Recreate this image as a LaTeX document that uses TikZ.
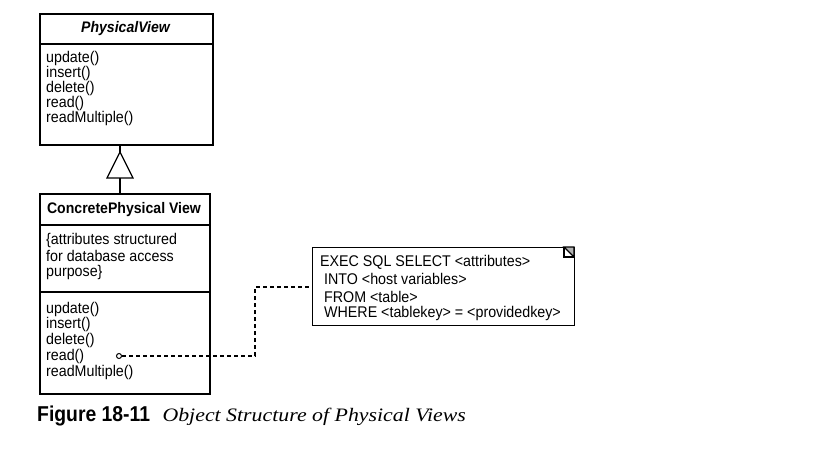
\documentclass[tikz,border=0pt]{standalone}
\usepackage{fontspec}
\setmainfont{Liberation Sans}
\newfontfamily\diag[FakeStretch=0.92]{Liberation Sans}
\newfontfamily\capsans[FakeStretch=0.9]{Liberation Sans}
\newfontfamily\capserif[FakeStretch=1.15]{Liberation Serif}
\usetikzlibrary{calc}

\begin{document}
\begin{tikzpicture}[x=1pt,y=-1pt,
  cls/.style={draw, line width=1.8pt, inner sep=0pt, anchor=north west},
  sepline/.style={line width=1.5pt},
  txt/.style={anchor=west, inner sep=0pt, font=\diag\fontsize{15.5}{15.5}\selectfont},
  ttl/.style={inner sep=0pt, font=\diag\fontsize{15.3}{15.3}\selectfont\bfseries},
  notebox/.style={draw, line width=1.4pt, inner sep=0pt, anchor=north west},
  dep/.style={line width=1.3pt, dash pattern=on 4pt off 3pt}
]
\fill[white] (0,0) rectangle (833,468);
\useasboundingbox (0,0) rectangle (833,468);

% PhysicalView class
\node[cls, minimum width=173pt, minimum height=131pt] (pv) at (39,13) {};
\draw[sepline] (39,44) -- (212,44);
\node[ttl, font=\diag\fontsize{15.3}{15.3}\selectfont\bfseries\itshape] (pvt) at (125.5,29) {PhysicalView};
\node[txt] (pv1) at (46,58) {update()};
\node[txt] (pv2) at (46,73) {insert()};
\node[txt] (pv3) at (46,88) {delete()};
\node[txt] (pv4) at (46,103) {read()};
\node[txt] (pv5) at (46,118) {readMultiple()};

% ConcretePhysical View class
\node[cls, minimum width=170pt, minimum height=200pt] (cp) at (39,193) {};
\draw[sepline] (39,225) -- (209,225);
\draw[sepline] (39,292) -- (209,292);
\node[ttl] (cpt) at (124,210) {ConcretePhysical View};
\node[txt] (ca1) at (46,240) {\{attributes structured};
\node[txt] (ca2) at (46,256) {for database access};
\node[txt] (ca3) at (46,272) {purpose\}};
\node[txt] (cm1) at (46,309) {update()};
\node[txt] (cm2) at (46,324) {insert()};
\node[txt] (cm3) at (46,340) {delete()};
\node[txt] (cm4) at (46,356) {read()};
\node[txt] (cm5) at (46,372) {readMultiple()};

% generalization
\coordinate (apex) at (120,152);
\draw[line width=1.2pt] (120,0 |- cp.north) -- (120,0 |- pv.south);
\filldraw[line width=1.2pt, fill=white] (apex) -- (133,178) -- (107,178) -- cycle;

% note
\node[notebox, minimum width=262pt, minimum height=78pt] (note) at (312,247) {};
\draw[line width=1.2pt, fill=gray!60] (564,247) -- (574,257) -- (574,247) -- cycle;
\draw[line width=1.2pt] (564,247) -- (564,257) -- (574,257);
\node[txt] (n1) at (320,262) {EXEC SQL SELECT <attributes>};
\node[txt] (n2) at (324,279) {INTO <host variables>};
\node[txt] (n3) at (324,297) {FROM <table>};
\node[txt] (n4) at (324,313) {WHERE <tablekey> = <providedkey>};

% dependency from read()
\node[draw, circle, line width=1pt, minimum size=5pt, inner sep=0pt] (dot) at (119,356) {};
\draw[dep] (dot.east) -- (255,356) -- (255,287) -- (note.west |- 0,287);

% caption
\node[anchor=west, inner sep=0pt, font=\capsans\fontsize{21.5}{22}\selectfont\bfseries] (fig) at (37,416) {Figure 18-11};
\node[anchor=base west, inner sep=0pt, font=\capserif\fontsize{19}{20}\selectfont\itshape] (cap) at ($(fig.base east)+(12,0)$) {Object Structure of Physical Views};
\end{tikzpicture}
\end{document}
